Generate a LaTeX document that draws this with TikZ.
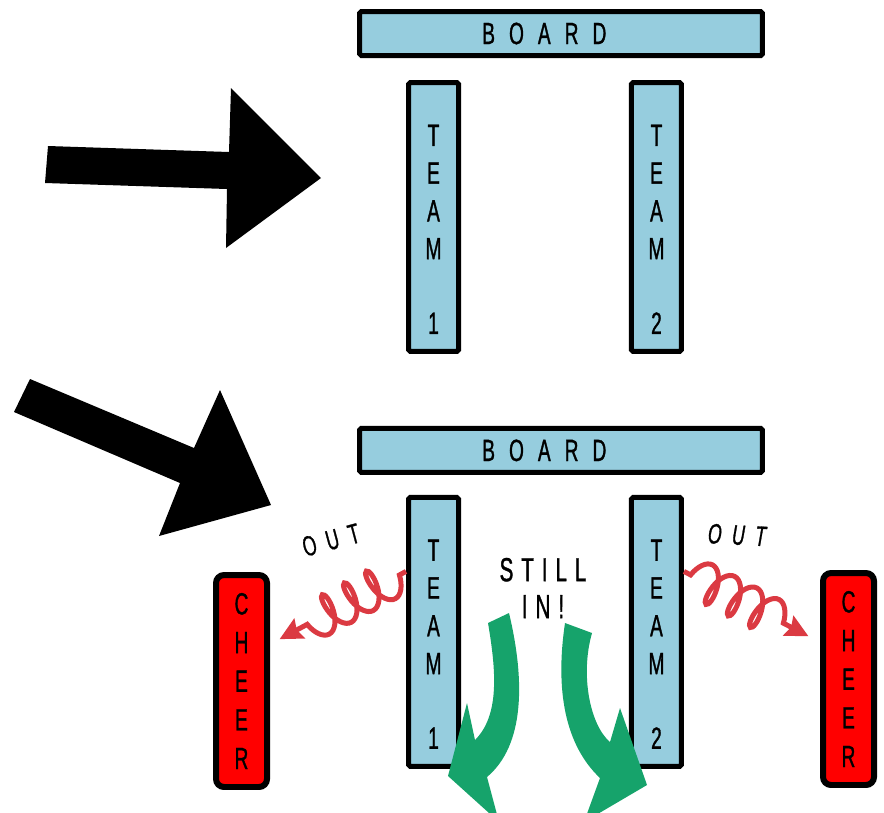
\documentclass[tikz,border=0pt]{standalone}
\usepackage{fontspec}
\newfontfamily\markerfont[FakeStretch=0.62,FakeBold=1]{Liberation Sans}
\usetikzlibrary{arrows.meta,positioning,decorations.pathmorphing}
\definecolor{boardblue}{RGB}{150,205,222}
\definecolor{cheerred}{RGB}{255,0,0}
\definecolor{coilred}{RGB}{219,58,66}
\definecolor{stillgreen}{RGB}{22,163,107}
\newcommand{\boardfont}{\markerfont\fontsize{17.5}{21.5}\selectfont\spaceskip 8pt\relax}
\newcommand{\outfont}{\markerfont\fontsize{16}{19}\selectfont\spaceskip 6pt\relax}
\newcommand{\stillfont}{\markerfont\fontsize{19}{21}\selectfont\spaceskip 4.5pt\relax}

\begin{document}
\begin{tikzpicture}[x=0.02cm,y=-0.02cm,node distance=1cm,
  board node/.style={rectangle,draw,line width=0.1cm,fill=boardblue,rounded corners=1pt,
    minimum width=8.06cm,minimum height=0.88cm,inner sep=0pt,font=\boardfont},
  team node/.style={rectangle,draw,line width=0.1cm,fill=boardblue,rounded corners=1pt,
    minimum width=1cm,minimum height=5.38cm,inner sep=0pt,align=center,
    font=\markerfont\fontsize{17.5}{21.5}\selectfont},
  cheer node/.style={rectangle,draw,line width=0.12cm,fill=cheerred,rounded corners=0.16cm,
    minimum width=1.02cm,minimum height=4.24cm,inner sep=0pt,align=center,
    font=\markerfont\fontsize{17.5}{22}\selectfont},
  out label/.style={inner sep=0pt,font=\outfont},
  still label/.style={inner sep=0pt,align=center,font=\stillfont},
  out coil/.style={-{Stealth[length=0.45cm,width=0.44cm,inset=0.06cm]},shorten >=1pt,
    coilred,line width=0.1cm,decorate,
    decoration={coil,aspect=0.45,amplitude=0.38cm,segment length=0.5cm,
      pre length=0.15cm,post length=0.25cm}},
  big arrow/.style={fill=black},
  turn arrow/.style={fill=stillgreen}]

  \useasboundingbox (0,0) rectangle (884,812);
  \clip (0,0) rectangle (884,812);

  % first line-up
  \node[board node] (board1) at (561,33.5) {B O A R D\kern19pt};
  \node[team node] (t1a) at (433.5,217) {\rule{0pt}{26pt}T\\E\\A\\M\\[21pt]1};
  \node[team node] (t2a) [right=3.36cm of t1a] {\rule{0pt}{26pt}T\\E\\A\\M\\[21pt]2};

  % second line-up
  \node[board node] (board2) [below=7.36cm of board1] {B O A R D\kern19pt};
  \node[team node] (t1b) [below=2.82cm of t1a] {\rule{0pt}{26pt}T\\E\\A\\M\\[21pt]1};
  \node[team node] (t2b) [below=2.82cm of t2a] {\rule{0pt}{26pt}T\\E\\A\\M\\[21pt]2};
  \node[cheer node] (ch1) at (241.5,681) {C\\H\\E\\E\\R};
  \node[cheer node] (ch2) at (848.5,679) {C\\H\\E\\E\\R};

  % pointers
  \fill[big arrow] (48,146) -- (229,152) -- (231,88) -- (321,178) -- (226,248)
    -- (227,189) -- (45,183) -- cycle;
  \fill[big arrow] (30,379) -- (194,448) -- (220,390) -- (271,505) -- (159,536)
    -- (180,483) -- (14,412) -- cycle;

  % out to cheer
  \draw[out coil] ([yshift=1.21cm]t1b.west) -- ([xshift=0.16cm,yshift=0.82cm]ch1.east);
  \draw[out coil] ([yshift=1.21cm]t2b.east) -- ([xshift=-0.2cm,yshift=0.84cm]ch2.west);
  \node[out label,rotate=15] (out1) at (331,540) {O U T};
  \node[out label,rotate=-3] (out2) at (737,535) {\itshape O U T};

  % still in
  \fill[turn arrow] (488,623) .. controls (496,670) and (500,715) .. (475,740)
    -- (467,703) -- (448,776) -- (499,822) -- (487,777)
    .. controls (525,745) and (525,680) .. (509,613) -- cycle;
  \fill[turn arrow] (565,623) .. controls (555,690) and (565,745) .. (600,778)
    -- (584,822) -- (647,785) -- (620,708) -- (610,742)
    .. controls (590,725) and (580,675) .. (592,633) -- cycle;
  \node[still label] (still) at (543,588) {S T I L L\\I N !};
\end{tikzpicture}
\end{document}
